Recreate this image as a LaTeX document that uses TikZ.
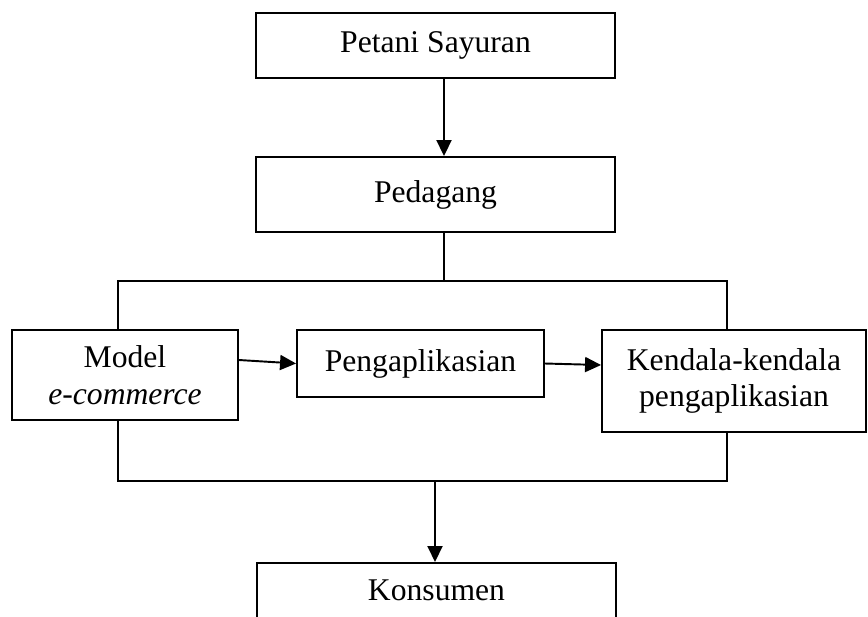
\documentclass[tikz,border=0pt]{standalone}
\usepackage{fontspec}
\setmainfont{Liberation Serif}
\usetikzlibrary{arrows.meta}

\tikzset{
  box/.style={draw,line width=1.1pt,align=center,inner sep=0pt,
    font=\fontsize{18}{20.7}\selectfont},
  flow/.style={line width=1.1pt,-{Triangle[length=0.32cm,width=0.3cm]}},
  link/.style={line width=1.1pt}
}

\begin{document}
\begin{tikzpicture}[x=0.02cm,y=-0.02cm]
  \useasboundingbox (0,0) rectangle (868,616);

  \node[box,minimum width=7.18cm,minimum height=1.3cm] (petani) at (435.5,45.5) {Petani Sayuran};
  \node[box,minimum width=7.18cm,minimum height=1.5cm] (pedagang) at (435.5,194.5) {Pedagang};
  \node[box,minimum width=4.52cm,minimum height=1.8cm] (model) at (125,375) {Model\\\textit{e-commerce}};
  \node[box,minimum width=4.94cm,minimum height=1.34cm] (terap) at (420.5,363.5) {Pengaplikasian};
  \node[box,minimum width=5.28cm,minimum height=2.04cm] (kendala) at (734,381) {Kendala-kendala\\pengaplikasian};
  \node[box,minimum width=7.18cm,minimum height=1.6cm,text height=0.5cm,text depth=0.58cm,anchor=north] (konsumen) at (436.5,562) {Konsumen};

  \coordinate (atas) at (444,281);
  \coordinate (bawah) at (435,481);

  \draw[flow] ([xshift=0.17cm]petani.south) -- ([xshift=0.17cm]pedagang.north);
  \draw[link] ([xshift=0.17cm]pedagang.south) -- (atas);
  \draw[link] (model.north -| 118,0) |- (atas) -| (kendala.north -| 727,0);
  \draw[link] (model.south -| 118,0) |- (bawah) -| (kendala.south -| 727,0);
  \draw[flow] (bawah) -- (bawah |- konsumen.north);

  \draw[flow] ([yshift=0.3cm]model.east) -- (terap.west);
  \draw[flow] (terap.east) -- ([yshift=0.32cm]kendala.west);
\end{tikzpicture}
\end{document}
